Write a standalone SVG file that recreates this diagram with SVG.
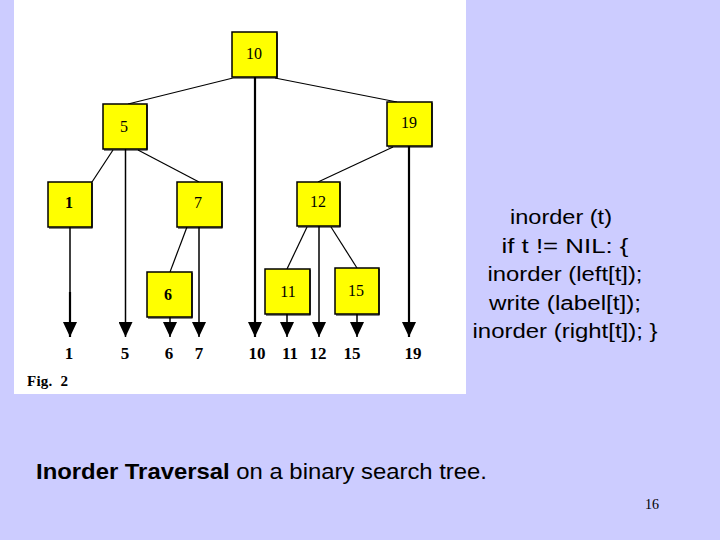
<svg xmlns="http://www.w3.org/2000/svg" width="720" height="540" viewBox="0 0 720 540">
  <style>
    .node rect { fill: #FFFF00; stroke: #000; stroke-width: 1.5; }
    .node path { fill: none; stroke: #000; stroke-width: 1.2; }
    .nl { font-family: "Liberation Serif", "Times New Roman", serif; font-size: 16px; text-anchor: middle; fill: #000; }
    .edge { stroke: #000; stroke-width: 1.2; fill: none; }
    .vert { stroke: #000; stroke-width: 1.5; fill: none; }
    .thick { stroke-width: 2.2; }
    .out { font-family: "Liberation Serif", "Times New Roman", serif; font-size: 17px; font-weight: bold; text-anchor: middle; fill: #000; }
    .code { font-family: "Liberation Sans", Arial, sans-serif; font-size: 20px; text-anchor: middle; fill: #000; }
  </style>
  <defs>
    <marker id="arr" viewBox="0 0 15 14" refX="15" refY="7" markerWidth="15" markerHeight="14" markerUnits="userSpaceOnUse" orient="auto">
      <path d="M0,0 L15,7 L0,14 Z" fill="#000"/>
    </marker>
  </defs>
  <rect x="0" y="0" width="720" height="540" fill="#CCCCFF"/>
  <rect x="14" y="0" width="452" height="394" fill="#FFFFFF"/>

  <g id="connectors">
    <line class="edge" x1="233" y1="78" x2="128" y2="104"/>
    <line class="edge" x1="275" y1="78" x2="397" y2="102"/>
    <line class="edge" x1="113" y1="150" x2="92" y2="182"/>
    <line class="edge" x1="138" y1="150" x2="199" y2="182"/>
    <line class="edge" x1="393" y1="147" x2="318" y2="182"/>
    <line class="edge" x1="187" y1="227" x2="170" y2="272"/>
    <line class="edge" x1="307" y1="227" x2="287" y2="269"/>
    <line class="edge" x1="331" y1="227" x2="357" y2="268"/>
    <line class="vert" x1="70" y1="227" x2="70" y2="292"/>
    <line class="vert thick" x1="70" y1="292" x2="70" y2="337" marker-end="url(#arr)"/>
    <line class="vert" x1="125.5" y1="149" x2="125.5" y2="337" marker-end="url(#arr)"/>
    <line class="vert" x1="170" y1="317" x2="170" y2="337" marker-end="url(#arr)"/>
    <line class="vert" x1="199" y1="227" x2="199" y2="337" marker-end="url(#arr)"/>
    <line class="vert thick" x1="255" y1="77" x2="255" y2="337" marker-end="url(#arr)"/>
    <line class="vert" x1="287" y1="314" x2="287" y2="337" marker-end="url(#arr)"/>
    <line class="vert" x1="319" y1="226" x2="319" y2="337" marker-end="url(#arr)"/>
    <line class="vert" x1="357" y1="314" x2="357" y2="337" marker-end="url(#arr)"/>
    <line class="vert thick" x1="409" y1="146" x2="409" y2="337" marker-end="url(#arr)"/>
  </g>

  <g id="node-10" class="node"><rect x="232" y="32" width="45" height="45"/><path d="M277,33 V78 H233"/><text class="nl" x="254" y="59">10</text></g>
  <g id="node-5" class="node"><rect x="103" y="104" width="44" height="45"/><path d="M147,105 V150 H104"/><text class="nl" x="124" y="132">5</text></g>
  <g id="node-19" class="node"><rect x="387" y="102" width="45" height="44"/><path d="M432,103 V147 H388"/><text class="nl" x="409" y="128">19</text></g>
  <g id="node-1" class="node"><rect x="48" y="182" width="44" height="45"/><path d="M92,183 V228 H49"/><text class="nl" x="69" y="208" font-weight="bold">1</text></g>
  <g id="node-7" class="node"><rect x="177" y="182" width="45" height="45"/><path d="M222,183 V228 H178"/><text class="nl" x="198" y="208">7</text></g>
  <g id="node-12" class="node"><rect x="297" y="182" width="43" height="44"/><path d="M340,183 V227 H298"/><text class="nl" x="318" y="207">12</text></g>
  <g id="node-6" class="node"><rect x="147" y="272" width="45" height="45"/><path d="M192,273 V318 H148"/><text class="nl" x="168" y="300" font-weight="bold">6</text></g>
  <g id="node-11" class="node"><rect x="265" y="269" width="45" height="45"/><path d="M310,270 V315 H266"/><text class="nl" x="288" y="297">11</text></g>
  <g id="node-15" class="node"><rect x="335" y="268" width="44" height="46"/><path d="M379,269 V315 H336"/><text class="nl" x="356" y="296">15</text></g>

  <g id="output-labels">
    <text class="out" x="69" y="359">1</text>
    <text class="out" x="125" y="359">5</text>
    <text class="out" x="169" y="359">6</text>
    <text class="out" x="199" y="359">7</text>
    <text class="out" x="257" y="359">10</text>
    <text class="out" x="290" y="359">11</text>
    <text class="out" x="318" y="359">12</text>
    <text class="out" x="352" y="359">15</text>
    <text class="out" x="413" y="359">19</text>
    <text x="27" y="386" font-family="Liberation Serif, Times New Roman, serif" font-size="15" font-weight="bold" fill="#000" textLength="41" lengthAdjust="spacing" xml:space="preserve">Fig.  2</text>
  </g>

  <g id="code">
    <text class="code" x="561" y="224" textLength="102" lengthAdjust="spacingAndGlyphs">inorder (t)</text>
    <text class="code" x="565" y="252.5" textLength="127" lengthAdjust="spacingAndGlyphs">if t != NIL: {</text>
    <text class="code" x="565" y="281" textLength="155" lengthAdjust="spacingAndGlyphs">inorder (left[t]);</text>
    <text class="code" x="565" y="309.5" textLength="152" lengthAdjust="spacingAndGlyphs">write (label[t]);</text>
    <text class="code" x="565" y="338" textLength="185" lengthAdjust="spacingAndGlyphs">inorder (right[t]); }</text>
  </g>

  <text x="36" y="479" font-family="Liberation Sans, Arial, sans-serif" font-size="22" fill="#000" textLength="451" lengthAdjust="spacingAndGlyphs"><tspan font-weight="bold">Inorder Traversal</tspan> on a binary search tree.</text>
  <text x="645" y="509" font-family="Liberation Serif, Times New Roman, serif" font-size="14" fill="#000">16</text>
</svg>
